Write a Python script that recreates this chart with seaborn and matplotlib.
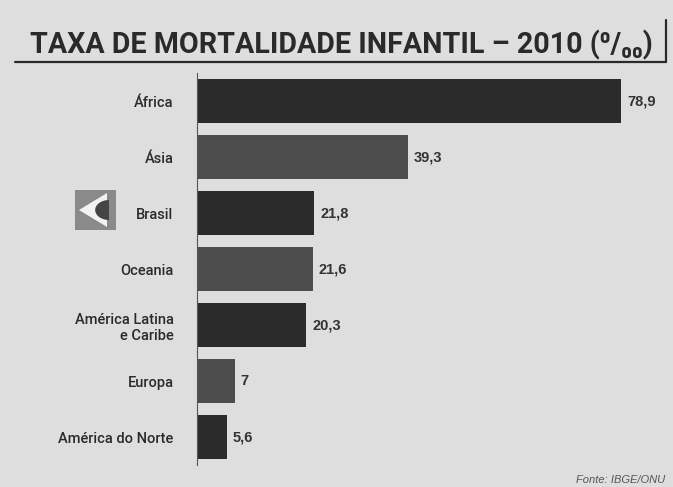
import matplotlib
matplotlib.use("Agg")
import matplotlib.pyplot as plt
import seaborn as sns
import pandas as pd
from matplotlib.patches import Rectangle, Polygon, Wedge
from matplotlib.lines import Line2D

regions = ["África", "Ásia", "Brasil", "Oceania", "América Latina\ne Caribe", "Europa", "América do Norte"]
values = [78.9, 39.3, 21.8, 21.6, 20.3, 7, 5.6]
value_labels = ["78,9", "39,3", "21,8", "21,6", "20,3", "7", "5,6"]
bar_colors = ["#2b2b2b", "#4d4d4d", "#2b2b2b", "#4d4d4d", "#2b2b2b", "#4d4d4d", "#2b2b2b"]

df = pd.DataFrame({"regiao": regions, "taxa": values})

sns.set_theme(style="white")
plt.rcParams["font.family"] = ["Liberation Sans", "DejaVu Sans"]

W, H = 673, 487
fig = plt.figure(figsize=(W / 100, H / 100), dpi=100)
bg = "#dedede"
fig.patch.set_facecolor(bg)

ax_left, ax_right = 197, 660
ax_top, ax_bot = 73, 465
ax = fig.add_axes([ax_left / W, 1 - ax_bot / H, (ax_right - ax_left) / W, (ax_bot - ax_top) / H])
ax.set_facecolor(bg)

sns.barplot(data=df, x="taxa", y="regiao", hue="regiao", palette=bar_colors,
            legend=False, orient="h", width=0.78, ax=ax, saturation=1, linewidth=0)

xmax = (ax_right - ax_left) / ((621 - 197) / 78.9)
ax.set_xlim(0, xmax)
ax.set_ylim(6.5, -0.5)
ax.set_xlabel("")
ax.set_ylabel("")
ax.set_xticks([])
for s in ["top", "right", "bottom"]:
    ax.spines[s].set_visible(False)
ax.spines["left"].set_color("#555555")
ax.spines["left"].set_linewidth(0.8)

ax.tick_params(axis="y", length=0, pad=17)
for lab in ax.get_yticklabels():
    lab.set_fontsize(10.5)
    lab.set_color("#2a2a2a")
    lab.set_family(["Roboto", "DejaVu Sans"])
    lab.set_fontweight("medium")
    lab.set_horizontalalignment("right")
    lab.set_multialignment("right")

for i, (v, t) in enumerate(zip(values, value_labels)):
    ax.text(v + 1.1, i, t, va="center", ha="left", fontsize=10.5, fontweight="bold", color="#333333")

# Title, sized to span the reference width
title = fig.text(30 / W, 1 - 45 / H, "TAXA DE MORTALIDADE INFANTIL – 2010 (⁰/₀₀)",
                 fontsize=20, fontweight="bold", color="#2a2a2a", va="center", ha="left",
                 family=["Roboto", "DejaVu Sans"])
renderer = fig.canvas.get_renderer()
for _ in range(3):
    wpx = title.get_window_extent(renderer).width
    title.set_fontsize(title.get_fontsize() * 620 / wpx)

fig.add_artist(Line2D([15 / W, 666 / W], [1 - 62 / H, 1 - 62 / H], color="#2a2a2a", lw=1.6))
fig.add_artist(Line2D([666 / W, 666 / W], [1 - 20 / H, 1 - 62 / H], color="#2a2a2a", lw=1.6))

# Brasil icon
x0, y0, w, h = 75, 190, 41, 40
def P(x, y):
    return (x / W, 1 - y / H)
fig.add_artist(Rectangle(P(x0, y0 + h), w / W, h / H, transform=fig.transFigure, color="#8a8a8a", lw=0))
fig.add_artist(Polygon([P(x0 + 4, y0 + h / 2), P(x0 + 32, y0 + 3), P(x0 + 32, y0 + h - 3)],
                       closed=True, transform=fig.transFigure, color="#f2f2f2", lw=0))
fig.add_artist(Wedge(P(x0 + 34, y0 + h / 2), 10 / H, 90, 270, transform=fig.transFigure,
                     color="#444444", lw=0))

fig.text(665 / W, 1 - 480 / H, "Fonte: IBGE/ONU", fontsize=8, style="italic",
         color="#555555", ha="right", va="center")

fig.savefig("out.png", dpi=100, facecolor=bg)
